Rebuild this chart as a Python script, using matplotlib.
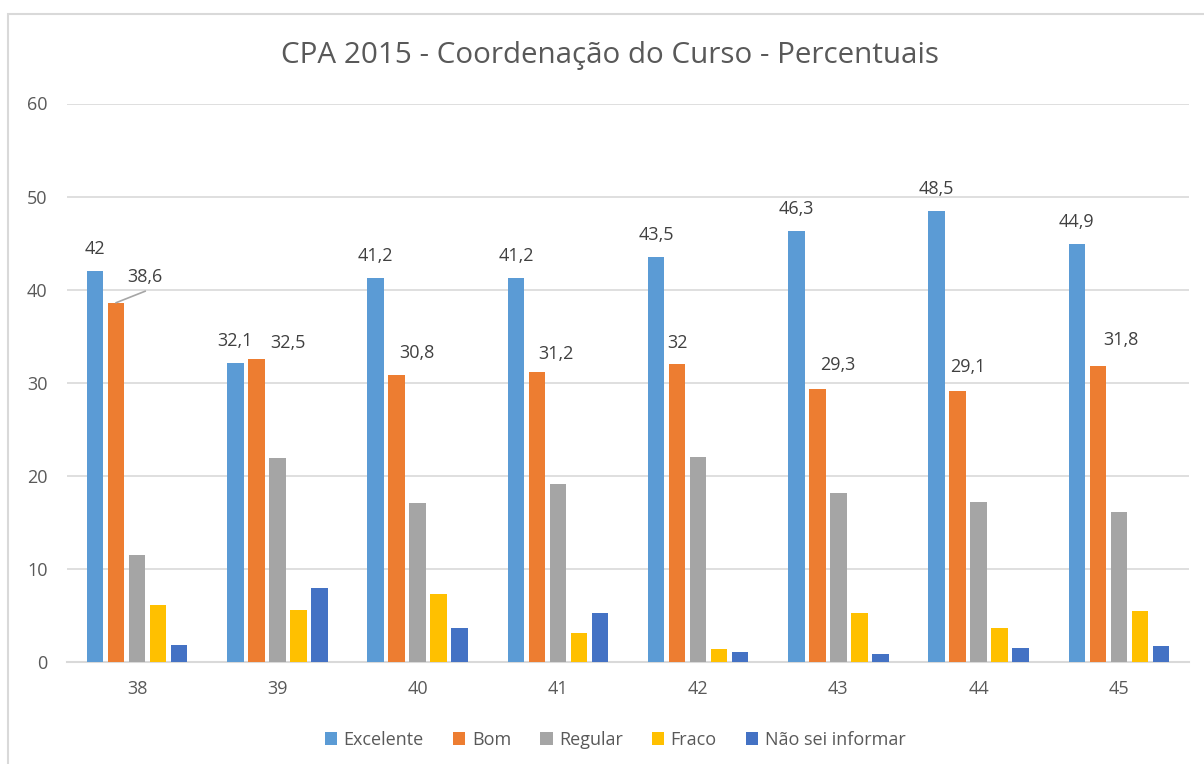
import numpy as np
import matplotlib.pyplot as plt
from matplotlib.patches import Rectangle

plt.rcParams['font.family'] = ['Open Sans', 'DejaVu Sans']

categories = ['38', '39', '40', '41', '42', '43', '44', '45']
series_names = ['Excelente', 'Bom', 'Regular', 'Fraco', 'Não sei informar']
excelente = [42, 32.1, 41.2, 41.2, 43.5, 46.3, 48.5, 44.9]
bom = [38.6, 32.5, 30.8, 31.2, 32, 29.3, 29.1, 31.8]
regular = [11.5, 21.9, 17.1, 19.1, 22.0, 18.2, 17.2, 16.1]
fraco = [6.1, 5.6, 7.3, 3.1, 1.4, 5.3, 3.7, 5.5]
nao_sei = [1.8, 7.9, 3.6, 5.3, 1.1, 0.9, 1.5, 1.7]

colors = ['#5B9BD5', '#ED7D31', '#A5A5A5', '#FFC000', '#4472C4']
series = [excelente, bom, regular, fraco, nao_sei]

# label offsets for the "Bom" labels (pixels), moved by hand in the original
bom_dx = [29, 32, 20, 19, 0, 20, 10, 23]
bom_dy = [26, 16, 22, 18, 21, 24, 24, 26]

fig = plt.figure(figsize=(12.04, 7.64), dpi=100)
ax = fig.add_axes([67 / 1204, 1 - 662 / 764, 1122 / 1204, (662 - 103.5) / 764])

# chart frame
fig.patches.append(Rectangle((8 / 1204, -0.1), 1.2, 1 - 14 / 764 + 0.1,
                             transform=fig.transFigure, fill=False,
                             edgecolor='#d9d9d9', linewidth=1.5))

x = np.arange(len(categories))
slot = 0.1497
width = 0.1176
for j, (vals, col, name) in enumerate(zip(series, colors, series_names)):
    ax.bar(x + (j - 2) * slot, vals, width, color=col, label=name, zorder=3)

# data labels
for i, v in enumerate(excelente):
    ax.annotate(f'{v:g}'.replace('.', ','), (x[i] - 2 * slot, v),
                xytext=(0, 22), textcoords='offset pixels',
                ha='center', va='center', fontsize=13, color='#404040')
for i, v in enumerate(bom):
    ax.annotate(f'{v:g}'.replace('.', ','), (x[i] - slot, v),
                xytext=(bom_dx[i], bom_dy[i]), textcoords='offset pixels',
                ha='center', va='center', fontsize=13, color='#404040')

# leader line for the first "Bom" label
ax.plot([x[0] - slot, x[0] - slot + 29 / 140.25], [bom[0], bom[0] + 11.5 / 9.317],
        color='#a6a6a6', lw=1.2, zorder=4)

ax.set_xlim(-0.5, 7.5)
ax.set_ylim(0, 60)
ax.set_yticks(range(0, 61, 10))
ax.set_xticks(x)
ax.set_xticklabels(categories)
ax.yaxis.grid(True, color='#d9d9d9', linewidth=1.2, zorder=0)
ax.set_axisbelow(True)
for s in ['top', 'right', 'left']:
    ax.spines[s].set_visible(False)
ax.spines['bottom'].set_color('#d9d9d9')
ax.spines['bottom'].set_linewidth(1.5)
ax.tick_params(axis='both', length=0, labelsize=13, labelcolor='#595959')
ax.tick_params(axis='y', pad=14)
ax.tick_params(axis='x', pad=13)

fig.text(0.5065, 1 - 55 / 764, 'CPA 2015 - Coordenação do Curso - Percentuais',
         ha='center', va='center', fontsize=21.3, color='#595959')

fig.legend(loc='center', bbox_to_anchor=(615 / 1204, 1 - 740 / 764), ncol=5,
           frameon=False, fontsize=13, handlelength=0.7, handleheight=0.7,
           handletextpad=0.35, columnspacing=1.6, labelcolor='#595959')

fig.savefig('out.png', dpi=100)
